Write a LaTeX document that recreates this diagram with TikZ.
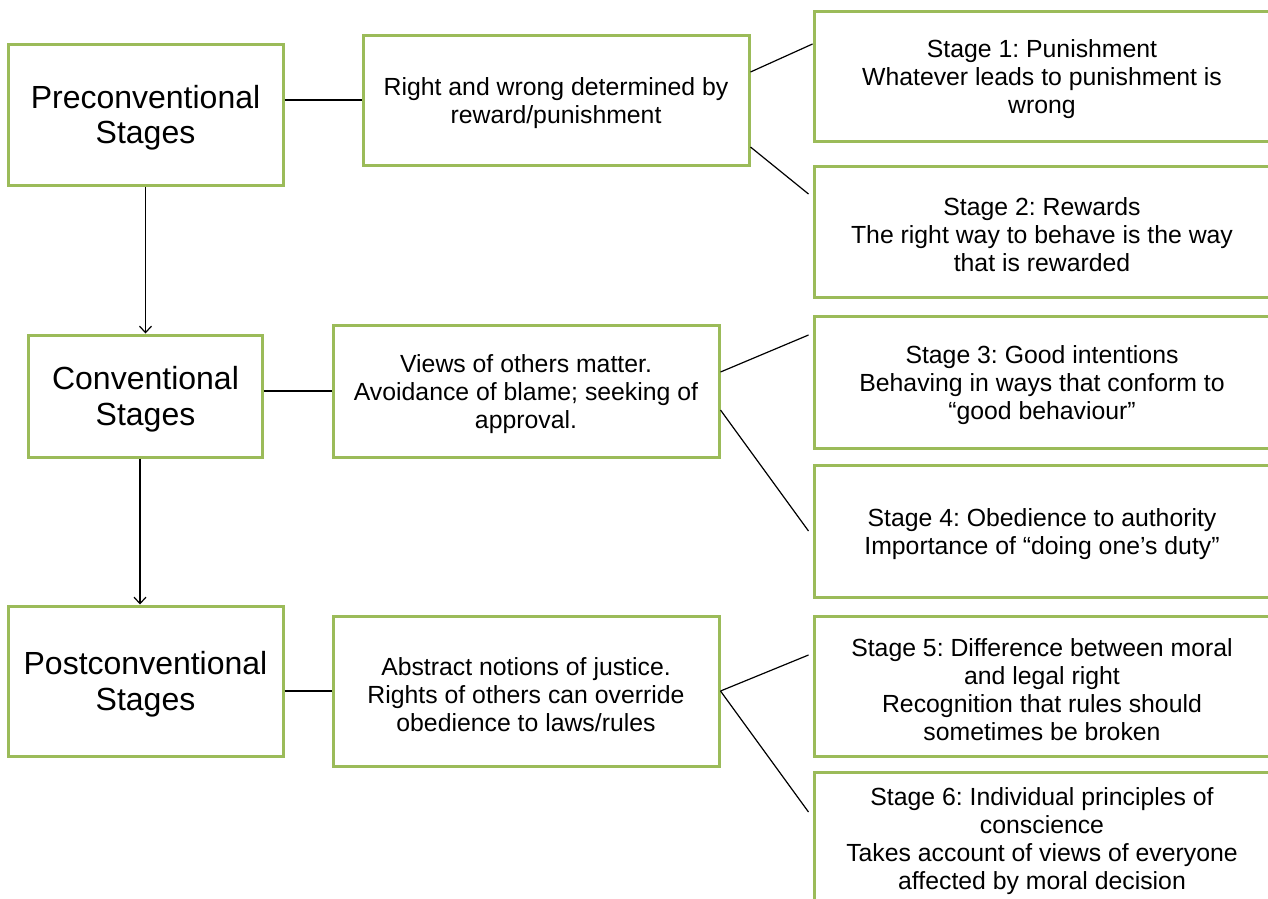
\documentclass[tikz,border=0pt]{standalone}
\usepackage{fontspec}
\setmainfont{Liberation Sans}
\usetikzlibrary{arrows.meta,calc}
\definecolor{boxgreen}{HTML}{9BBB59}
\frenchspacing
\newcommand{\bstrut}{\rule{0pt}{30pt}}
\newcommand{\sstrut}{\rule{0pt}{25pt}}
\begin{document}
\begin{tikzpicture}[x=1pt,y=-1pt,
  gbox/.style={draw=boxgreen,line width=3pt,fill=white,inner sep=0pt,align=center},
  bigtxt/.style={font=\fontsize{32}{35.5}\selectfont},
  smalltxt/.style={font=\fontsize{24.8}{28}\selectfont},
  conn/.style={draw=black,line width=1.2pt},
  arr/.style={conn,-{Straight Barb[length=6.5pt,width=12pt,line width=1.2pt]}}]
\useasboundingbox (0,0) rectangle (1268,898);
\clip (0,0) rectangle (1268,898);
\fill[white] (0,0) rectangle (1268,898);
% left column
\node[gbox,bigtxt,minimum width=275pt,minimum height=141pt] (pre) at (145.5,114.5) {\bstrut Preconventional\\Stages};
\node[gbox,bigtxt,minimum width=234pt,minimum height=122pt] (conv) at (145.5,396) {\bstrut Conventional\\Stages};
\node[gbox,bigtxt,minimum width=275pt,minimum height=150pt] (post) at (145.5,681) {\bstrut Postconventional\\Stages};
% middle column
\node[gbox,smalltxt,minimum width=386pt,minimum height=130pt] (m1) at (556,100) {\sstrut Right and wrong determined by\\reward/punishment};
\node[gbox,smalltxt,minimum width=386pt,minimum height=132pt] (m2) at (526,391) {\sstrut Views of others matter.\\Avoidance of blame; seeking of\\approval.};
\node[gbox,smalltxt,minimum width=386pt,minimum height=150pt] (m3) at (526,691) {\sstrut Abstract notions of justice.\\Rights of others can override\\obedience to laws/rules};
% right column
\node[gbox,smalltxt,minimum width=456pt,minimum height=130pt] (s1) at (1042,76) {\sstrut Stage 1: Punishment\\Whatever leads to punishment is\\wrong};
\node[gbox,smalltxt,minimum width=456pt,minimum height=131pt] (s2) at (1042,231.5) {\sstrut Stage 2: Rewards\\The right way to behave is the way\\that is rewarded};
\node[gbox,smalltxt,minimum width=456pt,minimum height=132pt] (s3) at (1042,382) {\sstrut Stage 3: Good intentions\\Behaving in ways that conform to\\“good behaviour”};
\node[gbox,smalltxt,minimum width=456pt,minimum height=132pt] (s4) at (1042,531) {\sstrut Stage 4: Obedience to authority\\Importance of “doing one’s duty”};
\node[gbox,smalltxt,minimum width=456pt,minimum height=140pt] (s5) at (1042,686) {\sstrut Stage 5: Difference between moral\\and legal right\\Recognition that rules should\\sometimes be broken};
\node[gbox,smalltxt,minimum width=456pt,minimum height=132pt] (s6) at (1042,838) {\sstrut Stage 6: Individual principles of\\conscience\\Takes account of views of everyone\\affected by moral decision};
% horizontal connectors
\draw[conn] (pre.east |- m1.west) -- (m1.west);
\draw[conn] (conv.east |- m2.west) -- (m2.west);
\draw[conn] (post.east |- m3.west) -- (m3.west);
% fan connectors
\draw[conn] ([yshift=28pt]m1.east) -- ([yshift=32pt]s1.west);
\draw[conn] ([yshift=-47pt]m1.east) -- ([xshift=-4pt,yshift=37.5pt]s2.west);
\draw[conn] ([yshift=19pt]m2.east) -- ([xshift=-4pt,yshift=47pt]s3.west);
\draw[conn] ([yshift=-19pt]m2.east) -- ([xshift=-4pt]s4.west);
\draw[conn] (m3.east) -- ([xshift=-4pt,yshift=31pt]s5.west);
\draw[conn] (m3.east) -- ([xshift=-4pt,yshift=26pt]s6.west);
% arrows
\draw[arr] (pre.south) -- (conv.north);
\draw[arr] ([xshift=-5.5pt]conv.south) -- ([xshift=-5.5pt]conv.south |- post.north);
\end{tikzpicture}
\end{document}
